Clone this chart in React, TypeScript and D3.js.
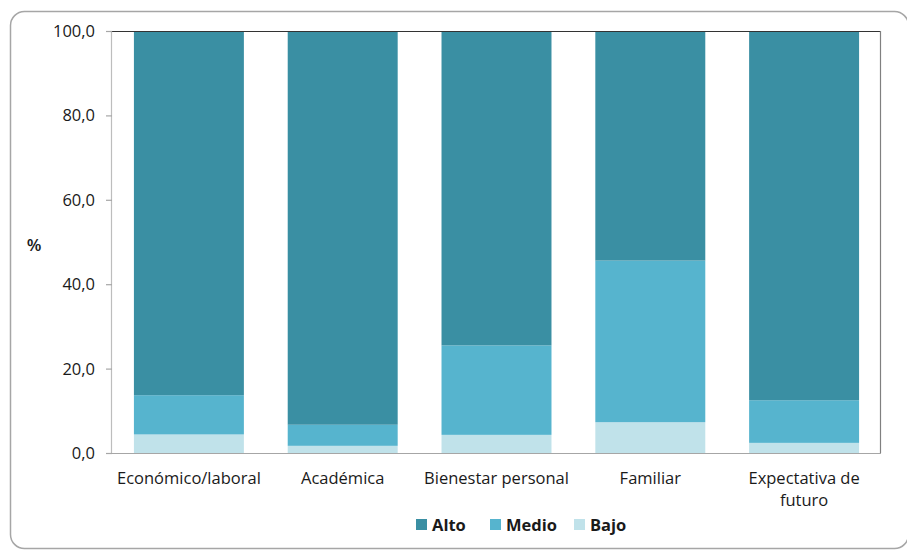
import React from "react";
import * as d3 from "d3";

const categories = ["Económico/laboral", "Académica", "Bienestar personal", "Familiar", "Expectativa de futuro"];
const categoryLines = [["Económico/laboral"], ["Académica"], ["Bienestar personal"], ["Familiar"], ["Expectativa de", "futuro"]];
const bajo = [4.4, 1.7, 4.3, 7.3, 2.4];
const medio = [9.3, 5.0, 21.2, 38.3, 10.1];
const alto = [86.3, 93.3, 74.5, 54.4, 87.5];
const seriesNames = ["Bajo", "Medio", "Alto"];
const legendOrder = ["Alto", "Medio", "Bajo"];
const yTicks = [0, 20, 40, 60, 80, 100];

const colors: Record<string, string> = { Alto: "#3a8fa3", Medio: "#56b4ce", Bajo: "#c0e2ea" };

const W = 907, H = 552;
const left = 112, right = 881, top = 31, bottom = 453;
const font = "'Open Sans', sans-serif";

export default function App() {
  const x = d3.scaleBand<string>().domain(categories).range([left, right]).paddingInner(0.285).paddingOuter(0.1425);
  const y = d3.scaleLinear().domain([0, 100]).range([bottom, top]);
  const rows = categories.map((c, i) => ({ cat: c, Bajo: bajo[i], Medio: medio[i], Alto: alto[i] }));
  const stacked = d3.stack<any>().keys(seriesNames)(rows);
  const fmt = (v: number) => v.toFixed(1).replace(".", ",");

  const legendX = [416, 490, 574];

  return (
    <svg width={W} height={H} style={{ position: "absolute", left: 0, top: 0 }}>
      <rect x={0} y={0} width={W} height={H} fill="#fff" />
      <rect x={10.5} y={11.5} width={898} height={537} rx={14} fill="#fff" stroke="#a6a6a6" strokeWidth={1.5} />
      {stacked.map((s) => (
        <g key={s.key} fill={colors[s.key]}>
          {s.map((d, i) => (
            <rect key={i} x={x(categories[i])} width={x.bandwidth()} y={y(d[1])} height={y(d[0]) - y(d[1])} />
          ))}
        </g>
      ))}
      {/* frame */}
      <line x1={left} x2={right} y1={top + 0.5} y2={top + 0.5} stroke="#333" strokeWidth={1} />
      <line x1={right - 0.5} x2={right - 0.5} y1={top} y2={bottom} stroke="#808080" strokeWidth={1.2} />
      <line x1={left - 0.5} x2={left - 0.5} y1={top} y2={bottom} stroke="#bdbdbd" strokeWidth={1.2} />
      <line x1={left - 6} x2={right} y1={bottom + 0.5} y2={bottom + 0.5} stroke="#a6a6a6" strokeWidth={1.2} />
      {yTicks.map((t) => (
        <g key={t}>
          <line x1={left - 6} x2={left} y1={y(t) + 0.5} y2={y(t) + 0.5} stroke="#a6a6a6" strokeWidth={1.2} />
          <text x={95} y={y(t)} dy="0.36em" textAnchor="end" fontFamily={font} fontSize={16.5} fill="#1a1a1a">{fmt(t)}</text>
        </g>
      ))}
      <text x={34} y={245} dy="0.36em" textAnchor="middle" fontFamily={font} fontSize={17} fontWeight={600} fill="#1a1a1a">%</text>
      {categories.map((c, i) => (
        <text key={c} x={(x(c) as number) + x.bandwidth() / 2} y={484} textAnchor="middle" fontFamily={font} fontSize={16.5} fill="#1a1a1a">
          {categoryLines[i].map((l, j) => (
            <tspan key={j} x={(x(c) as number) + x.bandwidth() / 2} dy={j === 0 ? 0 : 22}>{l}</tspan>
          ))}
        </text>
      ))}
      {legendOrder.map((k, i) => (
        <g key={k}>
          <rect x={legendX[i]} y={519} width={11} height={11} fill={colors[k]} />
          <text x={legendX[i] + 16} y={525} dy="0.36em" fontFamily={font} fontSize={16.5} fontWeight="bold" fill="#1a1a1a">{k}</text>
        </g>
      ))}
    </svg>
  );
}
